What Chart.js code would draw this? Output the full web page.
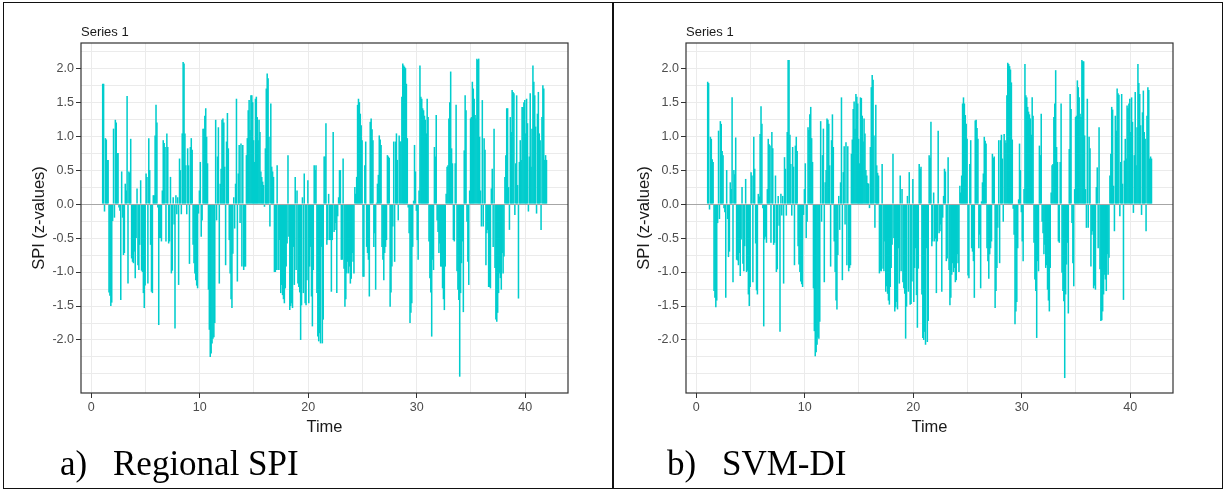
<!DOCTYPE html>
<html>
<head>
<meta charset="utf-8">
<script src="https://cdn.jsdelivr.net/npm/chart.js@4.4.1/dist/chart.umd.min.js"></script>
<style>
  body { margin: 0; width: 1226px; height: 491px; background: #fff; position: relative; overflow: hidden; }
  .frame { position: absolute; top: 2px; height: 487px; border: 1.5px solid #111; box-sizing: border-box; }
  .panel { position: absolute; top: 20px; }
  .cap { position: absolute; top: 444px; font-family: "Liberation Serif", "Times New Roman", serif; font-size: 35px; line-height: 40px; color: #000; white-space: nowrap; }
</style>
</head>
<body>
<div class="frame" style="left:3px;width:611px"></div>
<div class="frame" style="left:612px;width:611px"></div>
<canvas id="chartA" class="panel" width="580" height="430" style="left:10px"></canvas>
<canvas id="chartB" class="panel" width="580" height="430" style="left:615px"></canvas>
<div class="cap" style="left:60px">a)</div>
<div class="cap" style="left:113px">Regional SPI</div>
<div class="cap" style="left:667px">b)</div>
<div class="cap" style="left:722px">SVM-DI</div>

<script>
// monthly z-values, time starts at 1 (12 values per unit)
const timeStart = 1.05;
const perUnit = 12;

const regionalSPI = [
  1.77, 1.77, -0.11, 0.97, 0.95, 0.65, 0.65, -1.3, -1.35, -1.5, -1.45, -0.25,
  1.11, -0.2, 1.24, 1.2, 0.75, 0.75, -0.05, -0.1, -1.41, 0.48, -0.2, -0.75,
  -0.72, 0.3, 0.2, 1.59, -1.17, 0.48, 0.46, 0.96, -0.8, -0.85, -0.87, -0.7,
  -1.09, -0.5, 0.23, -0.9, -0.97, -0.6, 0.35, -0.98, -1.0, -1.31, -1.53, -1.2,
  0.45, 0.4, -1.17, 0.97, 0.5, -0.6, -1.29, -1.31, 0.13, 0.13, 1.01, 1.46,
  1.2, -0.05, -1.78, -0.5, -0.5, -0.55, 0.2, 0.94, 0.9, 0.84, -0.55,
  1.04, 0.84, -0.58, -0.55, 0.4, -1.02, -0.98, 0.1, -0.3, -1.83, 0.13, -0.15,
  0.1, -1.19, 0.67, 0.5, -0.15, 1.04, 2.09, 2.07, 1.04, 0.57, -0.15, 0.82,
  0.57, -0.88, 0.84, 0.97, 0.8, -0.6, -0.87, -1.02, -1.12, -1.2, -1.24, -0.14,
  0.2, 0.62, -0.48, -0.24, 1.11, 1.11, 1.3, 1.41, 0.99, 0.6, -1.26, -1.85,
  -2.25, -2.2, -2.05, -1.98, -1.96, -1.75, 1.24, -0.24, 0.7, 1.13, -1.17, 0.3,
  0.52, 1.24, 1.26, 1.2, 0.55, -0.9, 0.92, 1.34, 0.82, -0.53, -1.02, -1.4,
  -1.53, -0.73, 0.1, -0.36, 0.3, 1.55, -1.14, 0.45, 0.87, -0.28, 0.89, -0.92,
  0.87, -0.97,
  -0.92, -0.92, 0.72, 0.97, 1.38, 1.53, 1.09, 1.6, 1.6, 1.5, 0.94, 0.62,
  1.55, 1.58, 1.28, 0.94, 1.24, 1.06, 0.48, 0.4, 0.33, 0.28, -0.04, 0.82,
  1.7, 1.92, 1.85, 0.99, -0.33, 1.48, 0.55, 0.48, 0.4, -1.0, -1.0, -0.97,
  0.57, -0.97, -0.97, -0.53, -1.31, -1.19, -1.34, -1.4, -1.46, -1.24, -0.92, -0.58,
  0.72, -0.48, -1.56, -1.5, -1.46, -1.53, -0.63, -1.19, 0.4, -0.97, 0.2, -1.17,
  -1.22, -1.3, -2.0, -1.49, 0.1, -1.31, 0.45, -1.46, -1.49, -1.12, 0.35, -1.46,
  -0.92, -0.63, -1.36, -1.8, -0.97, 0.57, 0.5, 0.57, -1.31, -1.95, -2.02, -1.9,
  -2.05, -0.63,
  -2.05, -1.7, 0.7, 0.7, 1.19, -0.6, -0.53, 0.15, -0.53, -0.53, -1.29, -0.53,
  1.06, -0.41, -0.38, -0.28, -1.31, -0.18, 0.1, 0.5, 0.5, -0.82, -0.82, 0.67,
  -0.95, -1.51, -1.4, -1.02, -0.85, -1.02, -0.92, -1.17, -1.1, -0.72, -0.85, -1.02,
  0.25, 0.15, 0.4, 1.46, 1.55, 1.5, 1.33, 1.16, 0.94, -1.07, -1.07, 0.57,
  0.92, -0.63, -0.72, -0.82, -1.36, 1.21, 1.26, 1.1, 0.94, -0.63, -0.43, -1.26,
  0.02, 0.3, 0.43, 1.01, 0.95, 0.87, -0.63, -0.82, -1.12, -0.72, -0.63, -0.53,
  0.72, 0.7, 0.68, -1.51, -1.3, -0.92, -0.33, 0.92, -0.85, 0.92, 1.04, 0.65,
  -0.24, 1.01,
  0.92, 0.92, 1.58, 2.07, 2.04, 2.02, 2.0, 1.77, 0.97, -0.05, -0.43, -1.75,
  -1.6, -1.46, -0.63, 0.05, 0.87, 0.48, -0.1, -0.53, -0.82, 0.2, 2.04, 1.58,
  1.55, 1.41, 1.38, 1.3, 1.24, 1.04, 1.55, 1.28, -0.55, -1.09, -1.3, -1.95,
  -0.82, -0.97, 0.84, 0.7, 1.31, -0.24, -0.41, -0.72, -0.58, -0.92, -0.92, -1.24,
  -1.4, -1.56, -0.92, 0.15, 0.55, 0.57, 1.26, 1.5, 1.95, 0.82, 0.6, -0.53,
  -0.55, 0.6, 1.46, -0.99, -1.26, -1.41, -2.54, -1.31, -0.87, -0.55, -1.59, 0.79,
  1.6, 1.38, -0.26, -0.85, -1.19, 0.2, 1.26, 1.28, 1.8, 1.7, 1.55, 1.31,
  1.26, 2.14, 2.12,
  2.14, 0.99, 0.2, -0.33, 1.53, -0.33, 0.97, 0.8, -0.9, -0.43, -0.38, -1.22,
  -1.22, -1.24, 0.23, 0.52, -0.63, 1.11, -0.94, -1.7, -1.73, -1.6, -1.31, -1.02,
  -1.09, -1.26, -0.72, -1.02, -0.77, 0.4, 0.72, 1.41, 1.41, 0.25, -0.38, 1.28,
  1.06, 1.68, 1.65, 1.63, -0.16, 0.6, 1.6, 0.28, -1.39, 0.62, 0.94, 0.65,
  1.43, 1.43, 1.5, 1.53, 1.04, 1.55, 1.19, -0.11, 0.7, 1.63, 0.55, 1.11,
  2.04, 1.8, 1.6, 1.14, -0.14, 1.33, 1.65, 1.04, 0.94, -0.38, 1.28, 1.75,
  1.7, 0.65, 0.72, 0.65
];

const svmDI = [
  1.8, 1.78, -0.08, 0.99, 0.96, 0.66, 0.62, -1.28, -1.38, -1.52, -1.42, -0.28,
  1.08, -0.22, 1.22, 1.18, 0.78, 0.72, -0.06, -0.12, -1.38, 0.5, -0.22, -0.78,
  -0.7, 0.32, 0.22, 1.57, -1.15, 0.5, 0.44, 0.98, -0.82, -0.83, -0.9, -0.72,
  -1.06, -0.52, 0.25, -0.88, -0.99, -0.62, 0.37, -1.0, -0.98, -1.33, -1.5, -1.22,
  0.47, 0.42, -1.15, 0.99, 0.52, -0.58, -1.27, -1.33, 0.15, 0.11, 1.03, 1.44,
  1.18, -0.06, -1.8, -0.52, -0.48, -0.57, 0.22, 0.96, 0.88, 0.86, -0.57,
  1.06, 0.82, -0.6, -0.57, 0.42, -1.0, -0.96, 0.12, -0.32, -1.88, 0.15, -0.17,
  0.12, -1.17, 0.69, 0.52, -0.17, 1.06, 2.12, 2.12, 1.02, 0.59, -0.17, 0.84,
  0.55, -0.9, 0.86, 0.99, 0.78, -0.62, -0.89, -1.0, -1.14, -1.18, -1.22, -0.16,
  0.22, 0.6, -0.5, -0.26, 1.13, 1.09, 1.32, 1.43, 0.97, 0.62, -1.24, -1.87,
  -2.24, -2.18, -2.07, -1.96, -1.98, -1.73, 1.22, -0.26, 0.72, 1.11, -1.15, 0.32,
  0.5, 1.26, 1.24, 1.18, 0.57, -0.92, 0.94, 1.32, 0.84, -0.55, -1.0, -1.42,
  -1.55, -0.75, 0.12, -0.38, 0.32, 1.57, -1.12, 0.47, 0.85, -0.3, 0.91, -0.9,
  0.85, -0.99,
  -0.94, -0.9, 0.74, 0.95, 1.4, 1.51, 1.11, 1.62, 1.58, 1.48, 0.96, 0.6,
  1.57, 1.56, 1.3, 0.92, 1.26, 1.04, 0.5, 0.42, 0.31, 0.3, -0.06, 0.84,
  1.72, 1.9, 1.83, 1.01, -0.35, 1.46, 0.57, 0.46, 0.42, -1.02, -0.98, -0.99,
  0.59, -0.95, -0.99, -0.55, -1.29, -1.21, -1.32, -1.42, -1.48, -1.22, -0.94, -0.6,
  0.74, -0.5, -1.58, -1.52, -1.44, -1.55, -0.65, -1.17, 0.42, -0.99, 0.22, -1.15,
  -1.24, -1.32, -1.98, -1.51, 0.12, -1.29, 0.47, -1.48, -1.47, -1.14, 0.37, -1.44,
  -0.94, -0.65, -1.34, -1.82, -0.95, 0.59, 0.52, 0.55, -1.33, -1.97, -2.0, -1.88,
  -2.07, -0.65,
  -2.03, -1.72, 0.72, 0.68, 1.21, -0.62, -0.55, 0.17, -0.55, -0.51, -1.31, -0.55,
  1.08, -0.43, -0.4, -0.3, -1.29, -0.2, 0.12, 0.52, 0.48, -0.84, -0.8, 0.69,
  -0.97, -1.49, -1.38, -1.04, -0.87, -1.0, -0.94, -1.15, -1.12, -0.74, -0.87, -1.0,
  0.27, 0.17, 0.42, 1.48, 1.57, 1.48, 1.31, 1.18, 0.96, -1.05, -1.09, 0.59,
  0.94, -0.65, -0.7, -0.84, -1.38, 1.23, 1.24, 1.12, 0.96, -0.65, -0.45, -1.24,
  0.04, 0.32, 0.45, 0.99, 0.93, 0.89, -0.65, -0.84, -1.1, -0.74, -0.65, -0.55,
  0.74, 0.68, 0.7, -1.53, -1.28, -0.94, -0.35, 0.94, -0.87, 0.94, 1.02, 0.67,
  -0.26, 1.03,
  0.94, 0.9, 1.6, 2.08, 2.06, 2.03, 1.98, 1.79, 0.95, -0.07, -0.45, -1.77,
  -1.58, -1.44, -0.65, 0.07, 0.89, 0.5, -0.12, -0.55, -0.84, 0.22, 2.06, 1.6,
  1.57, 1.43, 1.36, 1.32, 1.26, 1.02, 1.57, 1.3, -0.57, -1.11, -1.28, -1.97,
  -0.84, -0.99, 0.86, 0.72, 1.33, -0.26, -0.43, -0.74, -0.6, -0.94, -0.9, -1.26,
  -1.42, -1.58, -0.94, 0.17, 0.57, 0.59, 1.28, 1.48, 1.97, 0.84, 0.62, -0.55,
  -0.57, 0.62, 1.48, -1.01, -1.28, -1.43, -2.56, -1.33, -0.89, -0.57, -1.61, 0.81,
  1.62, 1.4, -0.28, -0.87, -1.21, 0.22, 1.28, 1.3, 1.82, 1.72, 1.57, 1.33,
  1.28, 2.12, 2.1,
  2.1, 1.01, 0.22, -0.35, 1.55, -0.35, 0.99, 0.82, -0.92, -0.45, -0.4, -1.24,
  -1.2, -1.26, 0.25, 0.54, -0.65, 1.13, -0.96, -1.72, -1.71, -1.58, -1.33, -1.04,
  -1.11, -1.28, -0.74, -1.04, -0.79, 0.42, 0.74, 1.43, 1.39, 0.27, -0.4, 1.3,
  1.08, 1.7, 1.63, 1.61, -0.18, 0.62, 1.62, 0.3, -1.41, 0.64, 0.96, 0.67,
  1.45, 1.41, 1.48, 1.55, 1.06, 1.57, 1.21, -0.13, 0.72, 1.65, 0.57, 1.13,
  2.06, 1.78, 1.62, 1.16, -0.16, 1.35, 1.67, 1.06, 0.96, -0.4, 1.3, 1.72,
  1.68, 0.67, 0.7, 0.67
];

// grid breaks as in the original ggplot panels
const xBreaks = [0, 5, 10, 15, 20, 25, 30, 35, 40];
const yBreaks = [-2.5, -2.25, -2, -1.75, -1.5, -1.25, -1, -0.75, -0.5, -0.25, 0,
  0.25, 0.5, 0.75, 1, 1.25, 1.5, 1.75, 2, 2.25];

const barColor = '#00CDCD';
const font = '"Liberation Sans", Arial, sans-serif';

function toPoints(vals) {
  return vals.map((v, i) => ({ x: timeStart + i / perUnit, y: v }));
}

const isMajorY = v => Math.abs(v * 2 - Math.round(v * 2)) < 1e-6 && Math.abs(v) <= 2;
const isMajorX = v => v % 10 === 0;

const panelPlugin = {
  id: 'panelDeco',
  afterDatasetsDraw(chart) {
    const { ctx, chartArea: a, scales } = chart;
    const y0 = Math.round(scales.y.getPixelForValue(0)) + 0.5;
    ctx.save();
    ctx.strokeStyle = '#a6a6a6';
    ctx.lineWidth = 1;
    ctx.beginPath();
    ctx.moveTo(a.left, y0);
    ctx.lineTo(a.right, y0);
    ctx.stroke();
    ctx.restore();
  },
  afterDraw(chart) {
    const { ctx, chartArea: a } = chart;
    ctx.save();
    ctx.strokeStyle = '#333';
    ctx.lineWidth = 1.2;
    ctx.strokeRect(a.left, a.top, a.right - a.left, a.bottom - a.top);
    ctx.fillStyle = '#1a1a1a';
    ctx.font = '13px ' + font;
    ctx.textBaseline = 'alphabetic';
    ctx.fillText('Series 1', a.left, a.top - 7);
    ctx.restore();
  }
};

function makeChart(id, values) {
  return new Chart(document.getElementById(id), {
    type: 'bar',
    data: {
      datasets: [{
        data: toPoints(values),
        backgroundColor: barColor,
        borderWidth: 0,
        barPercentage: 1.7,
        categoryPercentage: 1
      }]
    },
    options: {
      responsive: false,
      animation: false,
      layout: { padding: { top: 23, right: 22, bottom: 7, left: 0 } },
      plugins: { legend: { display: false }, tooltip: { enabled: false } },
      scales: {
        x: {
          type: 'linear',
          min: -0.95,
          max: 43.95,
          offset: false,
          afterBuildTicks: s => { s.ticks = xBreaks.map(v => ({ value: v })); },
          afterFit: s => { s.height = 50; },
          grid: {
            offset: false,
            color: '#ebebeb',
            lineWidth: 1,
            tickLength: 5,
            tickColor: c => isMajorX(c.tick.value) ? '#333' : 'rgba(0,0,0,0)'
          },
          border: { display: false },
          ticks: {
            autoSkip: false,
            maxRotation: 0,
            padding: 2,
            color: '#4d4d4d',
            font: { family: font, size: 12.5 },
            callback: v => isMajorX(v) ? String(v) : ''
          },
          title: {
            display: true,
            text: 'Time',
            color: '#1a1a1a',
            font: { family: font, size: 16.5 },
            padding: { top: 0, bottom: 6 }
          }
        },
        y: {
          min: -2.78,
          max: 2.37,
          afterBuildTicks: s => { s.ticks = yBreaks.map(v => ({ value: v })); },
          afterFit: s => { s.width = 71; },
          grid: {
            color: '#ebebeb',
            lineWidth: 1,
            tickLength: 5,
            tickColor: c => isMajorY(c.tick.value) ? '#333' : 'rgba(0,0,0,0)'
          },
          border: { display: false },
          ticks: {
            autoSkip: false,
            padding: 2,
            color: '#4d4d4d',
            font: { family: font, size: 12.5 },
            callback: v => isMajorY(v) ? v.toFixed(1) : ''
          },
          title: {
            display: true,
            text: 'SPI (z-values)',
            color: '#1a1a1a',
            font: { family: font, size: 16.5 },
            padding: { top: 20, bottom: 0 }
          }
        }
      }
    },
    plugins: [panelPlugin]
  });
}

makeChart('chartA', regionalSPI);
makeChart('chartB', svmDI);
</script>
</body>
</html>
